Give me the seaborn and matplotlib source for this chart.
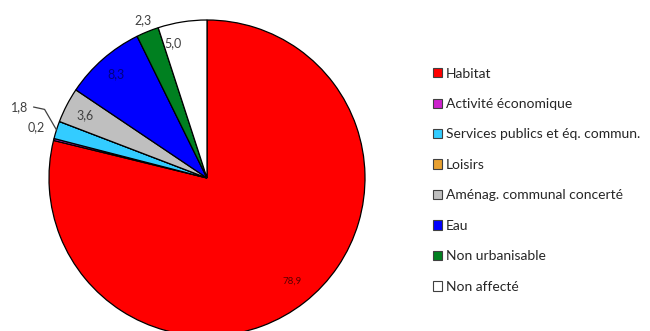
import numpy as np
import matplotlib
matplotlib.use("Agg")
import matplotlib.pyplot as plt
import seaborn as sns
from matplotlib.patches import Patch

# Données (en %)
categories = ["Habitat", "Activité économique", "Services publics et éq. commun.",
              "Loisirs", "Aménag. communal concerté", "Eau", "Non urbanisable",
              "Non affecté"]
valeurs = [78.9, 0.2, 1.8, 0.0, 3.6, 8.3, 2.3, 5.0]
etiquettes = ["78,9", "0,2", "1,8", "", "3,6", "8,3", "2,3", "5,0"]

couleurs = ["#FF0000", "#CC22CC", "#33CCFF", "#E8A030", "#BFBFBF",
            "#0000FF", "#008020", "#FFFFFF"]
# placement des étiquettes (rayon, décalage angulaire) et couleur du texte
rayon_etiq = [0.845, 1.13, 1.27, 0, 0.87, 0.87, 1.08, 0.88]
decal_ang = [1.5, -2.5, -3.0, 0, 0, 0, 0, 5.0]
coul_texte = ["#5a0000", "#404040", "#404040", "#404040", "#404040",
              "#000080", "#404040", "#404040"]

sns.set_style("white")
plt.rcParams["font.family"] = ["Lato", "DejaVu Sans"]

fig = plt.figure(figsize=(6.5, 3.31), dpi=100)
R = 158
cx, cy = 207, 331 - 178
ax = fig.add_axes([(cx - R) / 650, (cy - R) / 331, 2 * R / 650, 2 * R / 331])

wedges, _ = ax.pie(valeurs, colors=couleurs, startangle=90, counterclock=False,
                   wedgeprops=dict(edgecolor="black", linewidth=0.9))
ax.set_xlim(-1, 1)
ax.set_ylim(-1, 1)
ax.set_aspect("equal")
ax.axis("off")

for i, w in enumerate(wedges):
    if not etiquettes[i]:
        continue
    mid = np.deg2rad((w.theta1 + w.theta2) / 2)
    ang = mid + np.deg2rad(decal_ang[i])
    r = rayon_etiq[i]
    x, y = r * np.cos(ang), r * np.sin(ang)
    fs = 7 if i == 0 else 9
    if i == 2:
        # ligne de rappel
        ex, ey = np.cos(mid), np.sin(mid)
        ax.plot([x + 0.09, x + 0.16, ex], [y, y - 0.015, ey], color="#404040",
                lw=0.9, clip_on=False)
    ax.text(x, y, etiquettes[i], ha="center", va="center", fontsize=fs,
            color=coul_texte[i], clip_on=False)

handles = [Patch(facecolor=c, edgecolor="#404040", linewidth=0.8) for c in couleurs]
fig.legend(handles, categories, loc="upper left",
           bbox_to_anchor=(427 / 650, 1 - 62 / 331), frameon=False,
           fontsize=10, handlelength=0.65, handleheight=0.65,
           handletextpad=0.3, labelspacing=1.33, borderaxespad=0)

fig.savefig("out.png", dpi=100)
